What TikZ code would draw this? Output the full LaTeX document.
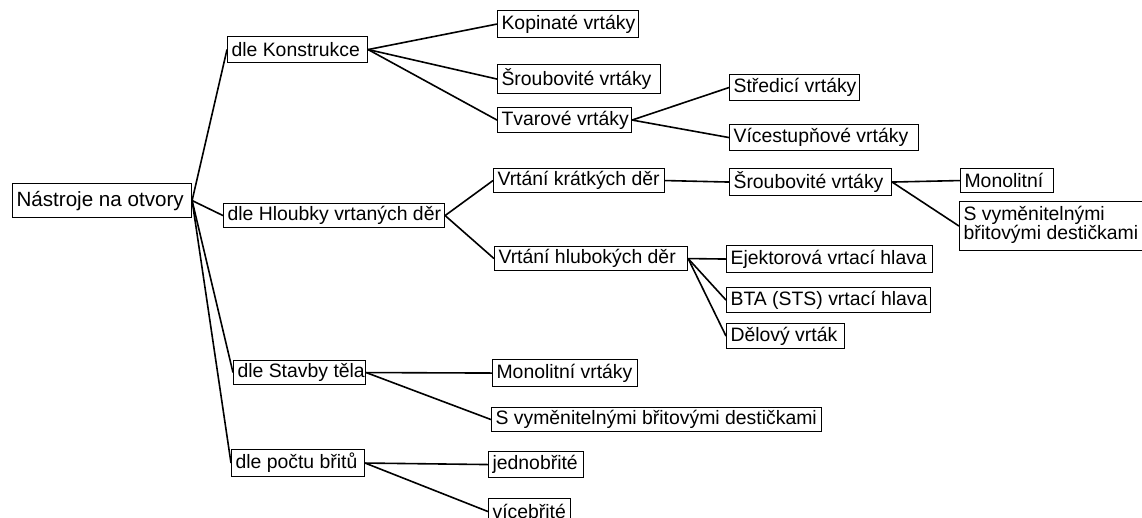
\documentclass[tikz,border=0pt]{standalone}
\usepackage{fontspec}
\setmainfont{Liberation Sans}
\newcommand\bt[2]{\makebox[#1][l]{#2}}
\begin{document}
\begin{tikzpicture}[x=1pt,y=-1pt,
  bx/.style={draw=black, line width=1.1pt, anchor=north west, inner xsep=4pt, inner ysep=0pt,
    font=\fontsize{19.4pt}{22pt}\selectfont},
  ln/.style={draw=black, line width=1.6pt}]
\useasboundingbox[fill=white] (0,0) rectangle (1142,517);
% level 0
\node[bx, minimum height=34pt, font=\fontsize{20.6pt}{24pt}\selectfont] (root) at (12,183) {\bt{171pt}{Nástroje na otvory}};
% level 1
\node[bx, minimum height=26pt] (konst) at (227,36) {\bt{132pt}{dle Konstrukce}};
\node[bx, minimum height=24pt] (hloub) at (223,203) {\bt{213pt}{dle Hloubky vrtaných děr}};
\node[bx, minimum height=24pt] (stavby) at (233,360) {\bt{124pt}{dle Stavby těla}};
\node[bx, minimum height=27pt] (poctu) at (231,449) {\bt{125pt}{dle počtu břitů}};
% level 2
\node[bx, minimum height=27pt] (kopin) at (497,10) {\bt{133pt}{Kopinaté vrtáky}};
\node[bx, minimum height=29pt] (sroubA) at (497,64) {\bt{155pt}{Šroubovité vrtáky}};
\node[bx, minimum height=25pt] (tvar) at (497,107) {\bt{126pt}{Tvarové vrtáky}};
\node[bx, minimum height=24pt] (kratk) at (493,168) {\bt{163pt}{Vrtání krátkých děr}};
\node[bx, minimum height=24pt] (hlub) at (494,246) {\bt{185pt}{Vrtání hlubokých děr}};
\node[bx, minimum height=27pt] (monov) at (492,359) {\bt{137pt}{Monolitní vrtáky}};
\node[bx, minimum height=24pt] (svymA) at (491,407) {\bt{322pt}{S vyměnitelnými břitovými destičkami}};
\node[bx, minimum height=26pt] (jedno) at (488,451) {\bt{87pt}{jednobřité}};
\node[bx, minimum height=26pt] (vice) at (488,498) {\bt{74pt}{vícebřité}};
% level 3
\node[bx, minimum height=26pt] (stred) at (729,74) {\bt{122pt}{Středicí vrtáky}};
\node[bx, minimum height=26pt] (vices) at (729,124) {\bt{181pt}{Vícestupňové vrtáky}};
\node[bx, minimum height=27pt] (sroubB) at (729,168) {\bt{154pt}{Šroubovité vrtáky}};
\node[bx, minimum height=27pt] (ejek) at (726,245) {\bt{198pt}{Ejektorová vrtací hlava}};
\node[bx, minimum height=25pt] (bta) at (726,287) {\bt{196pt}{BTA (STS) vrtací hlava}};
\node[bx, minimum height=25pt] (delov) at (726,323) {\bt{110pt}{Dělový vrták}};
% level 4
\node[bx, minimum height=24pt] (mono) at (960,168) {\bt{85pt}{Monolitní}};
\node[bx, minimum height=49pt] (svymB) at (959,201) {\begin{tabular}{@{}l@{}}S vyměnitelnými\\[-3pt]břitovými destičkami\end{tabular}};
% connectors
\path[ln] (root.east) -- (konst.west);
\path[ln] (root.east) -- (hloub.west);
\path[ln] (root.east) -- (stavby.west);
\path[ln] (root.east) -- (poctu.west);
\path[ln] (konst.east) -- (kopin.west);
\path[ln] (konst.east) -- (sroubA.west);
\path[ln] (konst.east) -- (tvar.west);
\path[ln] (tvar.east) -- (stred.west);
\path[ln] (tvar.east) -- (vices.west);
\path[ln] (hloub.east) -- (kratk.west);
\path[ln] (hloub.east) -- (hlub.west);
\path[ln] (kratk.east) -- (sroubB.west);
\path[ln] (sroubB.east) -- (mono.west);
\path[ln] (sroubB.east) -- (svymB.west);
\path[ln] (hlub.east) -- (ejek.west);
\path[ln] (hlub.east) -- (bta.west);
\path[ln] (hlub.east) -- (delov.west);
\path[ln] (stavby.east) -- (monov.west);
\path[ln] (stavby.east) -- (svymA.west);
\path[ln] (poctu.east) -- (jedno.west);
\path[ln] (poctu.east) -- (vice.west);
\end{tikzpicture}
\end{document}
